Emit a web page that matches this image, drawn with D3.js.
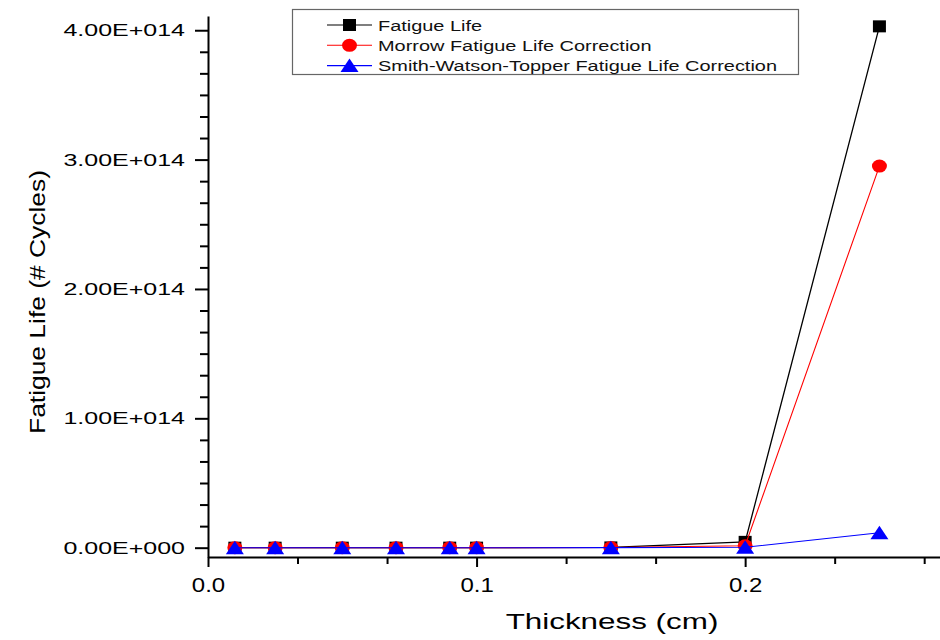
<!DOCTYPE html>
<html>
<head>
<meta charset="utf-8">
<script src="https://cdn.jsdelivr.net/npm/d3@7"></script>
<style>
  body { margin: 0; background: #fff; }
  svg { display: block; font-family: "Liberation Sans", Arial, sans-serif; }
</style>
</head>
<body>
<svg id="chart" width="940" height="640"></svg>
<script>
// thickness values (cm)
const thickness = [0.01, 0.025, 0.05, 0.07, 0.09, 0.1, 0.15, 0.2, 0.25];
// fatigue life in cycles
const fatigueLife = [1e9, 2e9, 5e9, 1e10, 2e10, 3e10, 2e11, 4.5e12, 4.03e14];
const morrowLife = [1e9, 2e9, 4e9, 8e9, 1.5e10, 2e10, 1.5e11, 1.5e12, 2.95e14];
const swtLife = [1e8, 2e8, 5e8, 1e9, 2e9, 3e9, 2e10, 3e11, 1.15e13];

const seriesNames = ["Fatigue Life", "Morrow Fatigue Life Correction", "Smith-Watson-Topper Fatigue Life Correction"];
const seriesColors = ["#000000", "#ff0000", "#0000ff"];

const xTickValues = [0, 0.1, 0.2];
const xTickLabels = ["0.0", "0.1", "0.2"];
const yTickValues = [0, 1e14, 2e14, 3e14, 4e14];
const yTickLabels = ["0.00E+000", "1.00E+014", "2.00E+014", "3.00E+014", "4.00E+014"];

const svg = d3.select("#chart");

const x = d3.scaleLinear().domain([0, 0.2733]).range([208, 942]);
const y = d3.scaleLinear().domain([-0.072e14, 4.11e14]).range([557, 16]);

// horizontal stretch of text, the reference image is wider than tall
function stretch(sel, k) {
    sel.each(function() {
        const t = d3.select(this);
        const xv = +t.attr("x") || 0;
        t.attr("x", xv / k).attr("transform", `scale(${k},1)`);
    });
}

// minor ticks
const xMinor = d3.range(1, 9).map(i => i / 30).filter(v => Math.abs(v * 10 - Math.round(v * 10)) > 1e-6);
const yMinor = d3.range(1, 25).map(i => i * 1e14 / 6).filter(v => Math.abs(v / 1e14 - Math.round(v / 1e14)) > 1e-6);

svg.append("g")
    .attr("transform", "translate(0,557)")
    .call(d3.axisBottom(x).tickValues(xMinor).tickSize(7).tickFormat(""))
    .call(g => g.select(".domain").remove());

const xAxis = svg.append("g")
    .attr("transform", "translate(0,557)")
    .call(d3.axisBottom(x).tickValues(xTickValues).tickSize(10).tickSizeOuter(0)
        .tickPadding(11).tickFormat((d, i) => xTickLabels[i]));
xAxis.selectAll("text").attr("font-size", 20).attr("font-family", "Liberation Sans, Arial").attr("fill", "#000");
stretch(xAxis.selectAll("text"), 1.2);

svg.append("g")
    .attr("transform", "translate(208,0)")
    .call(d3.axisLeft(y).tickValues(yMinor).tickSize(8).tickFormat(""))
    .call(g => g.select(".domain").remove());

const yAxis = svg.append("g")
    .attr("transform", "translate(208,0)")
    .call(d3.axisLeft(y).tickValues(yTickValues).tickSize(13).tickSizeOuter(0)
        .tickPadding(10).tickFormat((d, i) => yTickLabels[i]));
yAxis.selectAll("text").attr("font-size", 17).attr("font-family", "Liberation Sans, Arial").attr("fill", "#000");
stretch(yAxis.selectAll("text"), 1.47);

svg.selectAll(".domain, .tick line").attr("stroke", "#000").attr("stroke-width", 2);

// axis titles
svg.append("text")
    .attr("transform", "translate(612,629) scale(1.46,1)")
    .attr("text-anchor", "middle")
    .attr("font-size", 21.5)
    .text("Thickness (cm)");

svg.append("text")
    .attr("transform", "translate(45,302) rotate(-90) scale(1.2,1)")
    .attr("text-anchor", "middle")
    .attr("font-size", 22)
    .text("Fatigue Life (# Cycles)");

// markers
function drawMarker(g, type, color, cx, cy) {
    if (type === 0) {
        g.append("rect").attr("x", cx - 6.5).attr("y", cy - 6).attr("width", 13).attr("height", 12).attr("fill", color);
    } else if (type === 1) {
        g.append("ellipse").attr("cx", cx).attr("cy", cy).attr("rx", 7.5).attr("ry", 6.5).attr("fill", color);
    } else {
        g.append("path")
            .attr("d", `M${cx - 9},${cy + 6.5}L${cx + 9},${cy + 6.5}L${cx},${cy - 7}Z`)
            .attr("fill", color);
    }
}

const allSeries = [fatigueLife, morrowLife, swtLife];
const line = d3.line().x(d => x(d[0])).y(d => y(d[1]));

allSeries.forEach((vals, s) => {
    const pts = thickness.map((t, i) => [t, vals[i]]);
    const g = svg.append("g");
    g.append("path")
        .datum(pts)
        .attr("d", line)
        .attr("fill", "none")
        .attr("stroke", seriesColors[s])
        .attr("stroke-width", s === 0 ? 1.3 : 1.1);
    pts.forEach(p => drawMarker(g, s, seriesColors[s], x(p[0]), y(p[1])));
});

// legend
const legend = svg.append("g");
legend.append("rect")
    .attr("x", 292.5).attr("y", 9.5).attr("width", 506).attr("height", 65)
    .attr("fill", "#fff").attr("stroke", "#666").attr("stroke-width", 1.2);

seriesNames.forEach((name, i) => {
    const cy = 25 + i * 20.3;
    legend.append("line")
        .attr("x1", 327).attr("x2", 372).attr("y1", cy).attr("y2", cy)
        .attr("stroke", seriesColors[i]).attr("stroke-width", 1.1);
    drawMarker(legend, i, seriesColors[i], 349.5, cy);
    legend.append("text")
        .attr("transform", `translate(378,${cy + 5.5}) scale(1.33,1)`)
        .attr("font-size", 15)
        .attr("fill", "#111")
        .text(name);
});
</script>
</body>
</html>
